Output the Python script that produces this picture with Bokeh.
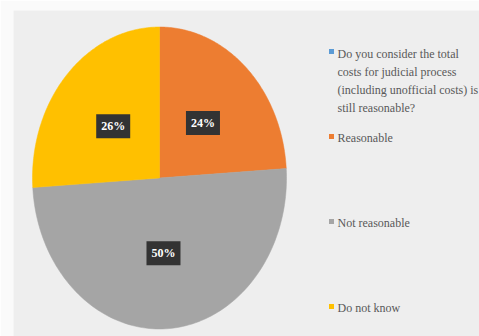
import numpy as np
from bokeh.plotting import figure
from bokeh.models import ColumnDataSource, Range1d
from bokeh.core.properties import value
from bokeh.embed import file_html
from bokeh.resources import INLINE

# ---- data ----
categories = ["Reasonable", "Not reasonable", "Do not know"]
shares = [24, 50, 26]
labels = ["24%", "50%", "26%"]
colors = ["#ED7D31", "#A5A5A5", "#FFC000"]
series_lines = ["Do you consider the total", "costs for judicial process",
                "(including unofficial costs) is", "still reasonable?"]
series_color = "#5B9BD5"

# ---- layout ----
W, H = 479, 336
BL, BT = 13, 10            # border left / top
CX, CY = 159.0, 177.5      # pie centre (px)
RX, RY = 127.0, 151.0      # pie radii (px)

x0 = (BL - CX) / RX
x1 = (W - CX) / RX
y0 = (CY - H) / RY
y1 = (CY - BT) / RY

def px2x(px):
    return (px - CX) / RX

def px2y(py):
    return (CY - py) / RY

p = figure(width=W, height=H, output_backend="svg", toolbar_location=None,
           x_range=Range1d(x0, x1), y_range=Range1d(y0, y1),
           min_border_left=BL, min_border_top=BT, min_border_right=0, min_border_bottom=0,
           background_fill_color="#eeeeee", border_fill_color="#fafafa")
p.axis.visible = False
p.grid.visible = False
p.outline_line_color = None

# ---- pie slices (clockwise from 12 o'clock) ----
total = float(sum(shares))
fr = np.array(shares) / total
ends = np.cumsum(fr) * 2 * np.pi
starts = ends - fr * 2 * np.pi
xs, ys, mids = [], [], []
for s, e in zip(starts, ends):
    t = np.linspace(s, e, 120)
    xs.append([0.0] + list(np.sin(t)) + [0.0])
    ys.append([0.0] + list(np.cos(t)) + [0.0])
    mids.append((s + e) / 2)
p.patches(xs, ys, fill_color=colors, line_color=colors, line_width=0.5)

# ---- data labels ----
mids = np.array(mids)
lab_src = ColumnDataSource(dict(x=0.5 * np.sin(mids), y=0.5 * np.cos(mids), t=labels))
p.text("x", "y", text="t", source=lab_src, text_align="center", text_baseline="middle",
       text_color="white", text_font=value("Liberation Sans Narrow"), text_font_style="bold",
       text_font_size="12px", background_fill_color="#333333", padding=5)

# ---- legend ----
leg_x = 331
txt_x = 337
first = 53
step = 18
series_y = [first + i * step for i in range(len(series_lines))]
cat_y = [137, 222, 307]

mk_src = ColumnDataSource(dict(
    x=[px2x(leg_x)] * (1 + len(categories)),
    y=[px2y(first - 2)] + [px2y(v - 1) for v in cat_y],
    c=[series_color] + colors))
p.scatter("x", "y", source=mk_src, marker="square", size=5, fill_color="c", line_color=None)

txt_src = ColumnDataSource(dict(
    x=[px2x(txt_x)] * (len(series_lines) + len(categories)),
    y=[px2y(v) for v in series_y] + [px2y(v) for v in cat_y],
    t=series_lines + categories))
p.text("x", "y", text="t", source=txt_src, text_align="left", text_baseline="middle",
       text_color="#595959", text_font=value("Liberation Sans Narrow"), text_font_size="12px")

open("out.html", "w").write(file_html(p, INLINE))
